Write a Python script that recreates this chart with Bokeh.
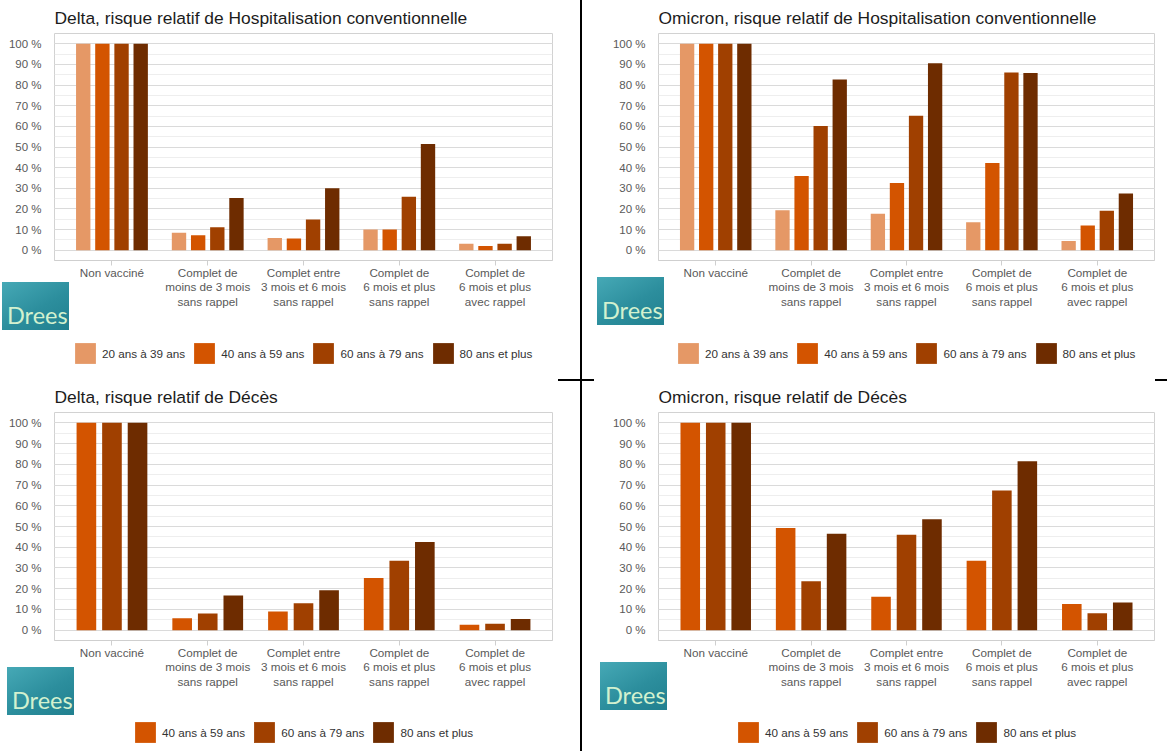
from bokeh.plotting import figure
from bokeh.models import (ColumnDataSource, FactorRange, Range1d, Legend, LegendItem,
                          Div, SingleIntervalTicker, PrintfTickFormatter)
from bokeh.layouts import row, column
from bokeh.transform import dodge
from bokeh.embed import file_html
from bokeh.resources import INLINE

# ---------------- data ----------------
categories = [
    "Non vacciné",
    "Complet de\nmoins de 3 mois\nsans rappel",
    "Complet entre\n3 mois et 6 mois\nsans rappel",
    "Complet de\n6 mois et plus\nsans rappel",
    "Complet de\n6 mois et plus\navec rappel",
]
ages4 = ["20 ans à 39 ans", "40 ans à 59 ans", "60 ans à 79 ans", "80 ans et plus"]
ages3 = ["40 ans à 59 ans", "60 ans à 79 ans", "80 ans et plus"]
colors4 = ["#E59866", "#D35400", "#A04000", "#6E2C00"]
colors3 = ["#D35400", "#A04000", "#6E2C00"]

titles = [
    "Delta, risque relatif de Hospitalisation conventionnelle",
    "Omicron, risque relatif de Hospitalisation conventionnelle",
    "Delta, risque relatif de Décès",
    "Omicron, risque relatif de Décès",
]

delta_hosp_20_39 = [100, 8.5, 5.9, 10.0, 3.1]
delta_hosp_40_59 = [100, 7.2, 5.7, 10.0, 2.0]
delta_hosp_60_79 = [100, 11.1, 14.9, 25.9, 3.1]
delta_hosp_80p = [100, 25.3, 30.0, 51.4, 6.7]

omicron_hosp_20_39 = [100, 19.3, 17.6, 13.5, 4.4]
omicron_hosp_40_59 = [100, 35.9, 32.5, 42.2, 12.0]
omicron_hosp_60_79 = [100, 60.2, 65.2, 86.1, 19.1]
omicron_hosp_80p = [100, 82.7, 90.6, 85.9, 27.5]

delta_deces_40_59 = [100, 5.7, 9.0, 25.1, 2.6]
delta_deces_60_79 = [100, 8.0, 13.0, 33.5, 3.1]
delta_deces_80p = [100, 16.7, 19.3, 42.5, 5.4]

omicron_deces_40_59 = [100, 49.3, 16.1, 33.5, 12.6]
omicron_deces_60_79 = [100, 23.6, 46.0, 67.4, 8.2]
omicron_deces_80p = [100, 46.5, 53.5, 81.5, 13.3]

FONT = "Liberation Sans"


def bar_layout(n):
    if n == 4:
        return [-0.3, -0.1, 0.1, 0.3], 0.15
    return [-0.267, 0.0, 0.267], 0.205


def make_source(series):
    data = {"cat": categories}
    for i, s in enumerate(series):
        data[f"s{i}"] = s
    return ColumnDataSource(data)


def make_chart(title, src, n, cols, geo):
    p = figure(
        x_range=FactorRange(factors=categories, range_padding=0.1, range_padding_units="absolute"),
        y_range=Range1d(-5, 105),
        width=geo["w"], height=geo["h"],
        min_border_left=geo["l"], min_border_right=geo["r"],
        min_border_top=geo["t"], min_border_bottom=geo["b"],
        output_backend="svg", toolbar_location=None, title=title,
    )
    p.background_fill_color = "white"
    p.border_fill_color = "white"
    p.outline_line_color = "#d2d2d2"

    p.title.text_font = FONT
    p.title.text_font_size = "17.4px"
    p.title.text_font_style = "normal"
    p.title.text_color = "#1c1c1c"
    p.title.align = "left"
    p.title.standoff = geo["ts"]

    offs, w = bar_layout(n)
    for i in range(n):
        p.vbar(x=dodge("cat", offs[i], range=p.x_range), top=f"s{i}", width=w,
               source=src, fill_color=cols[i], line_color=None)

    p.yaxis.ticker = SingleIntervalTicker(interval=10, num_minor_ticks=2)
    p.yaxis.formatter = PrintfTickFormatter(format="%d %%")
    p.yaxis.axis_line_color = None
    p.yaxis.major_tick_line_color = None
    p.yaxis.minor_tick_line_color = None
    p.yaxis.major_label_standoff = 7
    p.yaxis.major_label_text_font = FONT
    p.yaxis.major_label_text_font_size = "11.5px"
    p.yaxis.major_label_text_color = "#595959"

    p.xaxis.axis_line_color = "#cfcfcf"
    p.xaxis.major_tick_in = 0
    p.xaxis.major_tick_out = 5
    p.xaxis.major_tick_line_color = "#cfcfcf"
    p.xaxis.major_label_standoff = 0
    p.xaxis.major_label_text_font = FONT
    p.xaxis.major_label_text_font_size = "11.7px"
    p.xaxis.major_label_text_color = "#595959"
    p.xaxis.major_label_text_line_height = 1.15

    p.xgrid.visible = False
    p.ygrid.grid_line_color = "#dadada"
    p.ygrid.minor_grid_line_color = "#eeeeee"
    return p


def make_legend(src, n, labels, cols, w, h, loc):
    # legend strip: same series as zero-width bars, so only the swatches show
    lf = figure(width=w, height=h, min_border=0,
                x_range=FactorRange(factors=categories), y_range=Range1d(-5, 105),
                x_axis_type=None, y_axis_type=None, output_backend="svg", toolbar_location=None)
    lf.grid.visible = False
    lf.outline_line_color = None
    lf.background_fill_color = "white"
    lf.border_fill_color = "white"
    offs, _ = bar_layout(n)
    items = []
    for i in range(n):
        r = lf.vbar(x=dodge("cat", offs[i], range=lf.x_range), top=f"s{i}", width=0,
                    source=src, fill_color=cols[i], line_color=None)
        items.append(LegendItem(label=labels[i], renderers=[r]))
    legend = Legend(items=items, orientation="horizontal", location=loc,
                    padding=0, margin=0, spacing=6, label_standoff=4,
                    glyph_width=26, glyph_height=26, border_line_color=None,
                    background_fill_alpha=0, label_text_font=FONT,
                    label_text_font_size="11.7px", label_text_color="#333333")
    lf.add_layout(legend)
    return lf


def logo(margin, h=48):
    html = ('<div style="font-family: Lato, sans-serif; font-size: 23.5px; line-height: 28px; '
            'color: #d3f1cf; padding-top: 19px; padding-left: 5px;">Drees</div>')
    return Div(text=html, width=67, height=h, margin=margin,
               styles={"background": "linear-gradient(150deg, #46a9b6 0%, #2c8e9d 55%, #21808f 100%)",
                       "position": "relative", "z-index": "5", "overflow": "hidden"})


geo_tl = dict(w=580, h=335, l=54, r=28, t=33, b=75, ts=11)
geo_tr = dict(w=585, h=335, l=76, r=13, t=33, b=75, ts=11)
geo_bl = dict(w=580, h=336, l=54, r=28, t=33, b=75, ts=11)
geo_br = dict(w=585, h=336, l=76, r=13, t=33, b=75, ts=11)

src1 = make_source([delta_hosp_20_39, delta_hosp_40_59, delta_hosp_60_79, delta_hosp_80p])
src2 = make_source([omicron_hosp_20_39, omicron_hosp_40_59, omicron_hosp_60_79, omicron_hosp_80p])
src3 = make_source([delta_deces_40_59, delta_deces_60_79, delta_deces_80p])
src4 = make_source([omicron_deces_40_59, omicron_deces_60_79, omicron_deces_80p])

p1 = make_chart(titles[0], src1, 4, colors4, geo_tl)
p2 = make_chart(titles[1], src2, 4, colors4, geo_tr)
p3 = make_chart(titles[2], src3, 3, colors3, geo_bl)
p4 = make_chart(titles[3], src4, 3, colors3, geo_br)

l1 = make_legend(src1, 4, ages4, colors4, 580, 44, (18, 13))
l2 = make_legend(src2, 4, ages4, colors4, 585, 44, (17, 13))
l3 = make_legend(src3, 3, ages3, colors3, 580, 36, (78, 6))
l4 = make_legend(src4, 3, ages3, colors3, 585, 36, (77, 6))

vline = Div(text="", width=2, height=751, margin=(0, 0, 0, 0),
            styles={"background-color": "#000000"})
hleft = Div(text="", width=580, height=2, margin=(0, 0, -2, 0),
            styles={"background": "linear-gradient(to right, rgba(0,0,0,0) 558px, #000000 558px)",
                    "position": "relative", "z-index": "5"})
hright = Div(text="", width=585, height=2, margin=(0, 0, -2, 0),
             styles={"background": "linear-gradient(to right, #000000 12px, rgba(0,0,0,0) 12px, rgba(0,0,0,0) 573px, #000000 573px)",
                     "position": "relative", "z-index": "5"})

# logo margins are (top, right, bottom, left); top + height + bottom = 0 keeps the flow unchanged
logo_tl = logo((-97, 0, 49, 2))
logo_bl = logo((-84, 0, 36, 7))
logo_tr = logo((-102, 0, 54, 15))
logo_br = logo((-89, 0, 41, 18))

left_col = column(p1, l1, logo_tl, hleft, p3, l3, logo_bl, spacing=0)
right_col = column(p2, l2, logo_tr, hright, p4, l4, logo_br, spacing=0)
layout = row(left_col, vline, right_col, spacing=0)

open("out.html", "w").write(file_html(layout, INLINE))
